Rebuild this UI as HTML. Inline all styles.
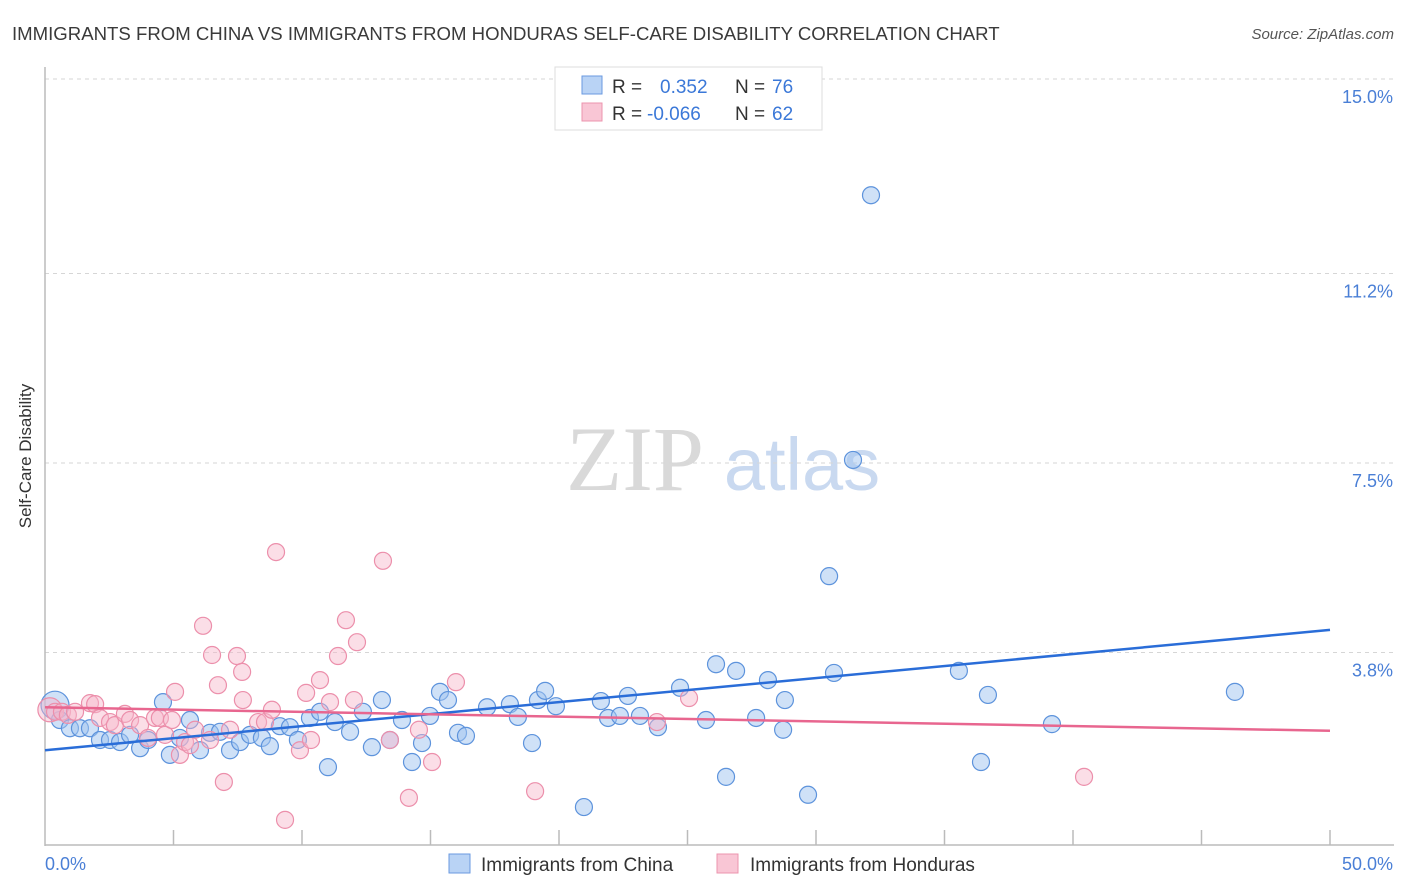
<!DOCTYPE html>
<html><head><meta charset="utf-8"><style>
body{margin:0;background:#fff;font-family:"Liberation Sans",sans-serif;}
svg{display:block}
</style></head><body>
<svg id="chart" width="1406" height="892">
<text x="12" y="40" font-size="18.6" fill="#3a3a3a">IMMIGRANTS FROM CHINA VS IMMIGRANTS FROM HONDURAS SELF-CARE DISABILITY CORRELATION CHART</text>
<text x="1394" y="39" font-size="15" fill="#555" font-style="italic" text-anchor="end">Source: ZipAtlas.com</text>
<g>
<text x="635" y="490" font-family="Liberation Serif,serif" font-size="92" fill="#d9d9d9" text-anchor="middle">ZIP</text>
<text x="802" y="490" font-size="74" fill="#c9d9f0" text-anchor="middle">atlas</text>
</g>
<g id="grid"></g>
<g id="axes"></g>
<g id="pts"></g>
<g id="lines"></g>
<text x="31" y="456" font-size="17" fill="#333" text-anchor="middle" transform="rotate(-90 31 456)">Self-Care Disability</text>
<text x="45" y="870" font-size="18" fill="#4a7fd6">0.0%</text>
<text x="1393" y="870" font-size="18" fill="#4a7fd6" text-anchor="end">50.0%</text>
<g>
<rect x="555" y="67" width="267" height="63" fill="#fff" stroke="#ddd"/>
<rect x="582" y="76" width="20" height="18" fill="#b9d3f5" stroke="#6a9ae0"/>
<rect x="582" y="103" width="20" height="18" fill="#f9c6d5" stroke="#ec94ae"/>
<text x="612" y="93" font-size="19" fill="#333">R =</text>
<text x="660" y="93" font-size="19" fill="#3b78d8">0.352</text>
<text x="735" y="93" font-size="19" fill="#333">N =</text>
<text x="772" y="93" font-size="19" fill="#3b78d8">76</text>
<text x="612" y="120" font-size="19" fill="#333">R =</text>
<text x="647" y="120" font-size="19" fill="#3b78d8">-0.066</text>
<text x="735" y="120" font-size="19" fill="#333">N =</text>
<text x="772" y="120" font-size="19" fill="#3b78d8">62</text>
</g>
<g>
<rect x="449" y="854" width="21" height="19" fill="#b9d3f5" stroke="#6a9ae0"/>
<text x="481" y="871" font-size="19" fill="#333">Immigrants from China</text>
<rect x="717" y="854" width="21" height="19" fill="#f9c6d5" stroke="#ec94ae"/>
<text x="750" y="871" font-size="19" fill="#333">Immigrants from Honduras</text>
</g>
</svg>
<script>
const yTicks=[3.8,7.5,11.2,15.0];
const yTickLabels=["3.8%","7.5%","11.2%","15.0%"];
const chinaX=[0.39,0.58,0.97,1.36,1.75,2.14,2.53,2.92,3.31,3.70,4.01,4.59,4.86,5.25,5.64,6.03,6.42,6.81,7.20,7.59,7.98,8.44,8.75,9.14,9.53,9.84,10.31,10.70,11.01,11.28,11.87,12.37,12.72,13.11,13.42,13.89,14.28,14.67,14.98,15.37,15.68,16.07,16.38,17.20,18.09,18.40,18.95,19.18,19.46,19.88,20.97,21.63,21.91,22.37,22.68,23.15,23.85,24.71,25.72,26.11,26.50,26.89,27.67,28.13,28.72,28.79,29.69,30.51,30.70,31.44,32.14,35.56,36.42,36.69,39.18,46.30];
const chinaY=[2.77,2.48,2.32,2.32,2.32,2.09,2.09,2.05,2.19,1.93,2.09,2.83,1.80,2.13,2.48,1.89,2.23,2.25,1.89,2.05,2.19,2.13,1.97,2.36,2.34,2.09,2.52,2.64,1.56,2.44,2.25,2.64,1.95,2.87,2.09,2.48,1.66,2.03,2.56,3.03,2.87,2.23,2.17,2.73,2.79,2.54,2.03,2.87,3.05,2.75,0.78,2.85,2.52,2.56,2.95,2.56,2.34,3.11,2.48,3.57,1.37,3.44,2.52,3.26,2.29,2.87,1.02,5.29,3.40,7.56,12.73,3.44,1.66,2.97,2.40,3.03];
const hondX=[0.19,0.39,0.66,0.89,1.17,1.75,1.95,2.14,2.53,2.72,3.11,3.31,3.70,4.01,4.28,4.47,4.67,4.94,5.06,5.25,5.45,5.64,5.84,6.15,6.42,6.50,6.73,6.96,7.20,7.47,7.67,7.70,8.29,8.56,8.83,8.99,9.34,9.92,10.16,10.35,10.70,11.09,11.40,11.71,12.02,12.14,13.15,13.42,14.16,14.55,15.06,15.99,19.07,23.81,25.06,40.43];
const hondY=[2.68,2.64,2.64,2.58,2.64,2.81,2.79,2.52,2.44,2.38,2.60,2.48,2.38,2.13,2.52,2.52,2.19,2.48,3.03,1.80,2.05,1.99,2.29,4.32,2.09,3.75,3.16,1.27,2.29,3.73,3.42,2.87,2.44,2.44,2.68,5.76,0.53,1.89,3.01,2.09,3.26,2.83,3.73,4.43,2.87,4.00,5.59,2.09,0.96,2.29,1.66,3.22,1.09,2.44,2.91,1.37];
const chinaTrend=[1.89,4.24];
const hondTrend=[2.73,2.27];
const trendX=[0,50];
const bigIdxChina=0, bigIdxHond=0;

const NS="http://www.w3.org/2000/svg";
const xs=v=>45+v*25.7;
const ys=v=>847-v*51.2;
function mk(tag,attrs,parent){const e=document.createElementNS(NS,tag);for(const k in attrs)e.setAttribute(k,attrs[k]);document.getElementById(parent).appendChild(e);return e;}

yTicks.forEach((t,i)=>{
  const g=mk('line',{x1:45,x2:1394,y1:ys(t),y2:ys(t),stroke:'#d6d6d6','stroke-dasharray':'4 4'},'grid');
  
  
  const l=mk('text',{x:1393,y:ys(t)+24,'font-size':18,fill:'#4a7fd6','text-anchor':'end'},'grid');
  l.textContent=yTickLabels[i];
  
  
});
const ya=mk('line',{x1:45,x2:45,y1:67,y2:846,stroke:'#bbb','stroke-width':1.5},'axes');


const xa=mk('line',{x1:45,x2:1394,y1:845,y2:845,stroke:'#bbb','stroke-width':1.5},'axes');


for(let v=5;v<=50;v+=5){
  const t=mk('line',{x1:xs(v),x2:xs(v),y1:830,y2:845,stroke:'#bbb','stroke-width':1.5},'axes');
  
  
}
chinaX.forEach((x,i)=>{
  const c=mk('circle',{cx:xs(x),cy:ys(chinaY[i]),r:i===bigIdxChina?14:8.5,fill:'rgba(160,196,240,0.5)',stroke:'#5d93dc','stroke-width':1.2},'pts');
  
  
});
hondX.forEach((x,i)=>{
  const c=mk('circle',{cx:xs(x),cy:ys(hondY[i]),r:i===bigIdxHond?12:8.5,fill:'rgba(247,182,202,0.45)',stroke:'#ec8fab','stroke-width':1.2},'pts');
  
  
});
const l1=mk('line',{x1:xs(trendX[0]),x2:xs(trendX[1]),y1:ys(chinaTrend[0]),y2:ys(chinaTrend[1]),stroke:'#2a6dd8','stroke-width':2.5},'lines');


const l2=mk('line',{x1:xs(trendX[0]),x2:xs(trendX[1]),y1:ys(hondTrend[0]),y2:ys(hondTrend[1]),stroke:'#e8668f','stroke-width':2.5},'lines');


</script>
</body></html>
